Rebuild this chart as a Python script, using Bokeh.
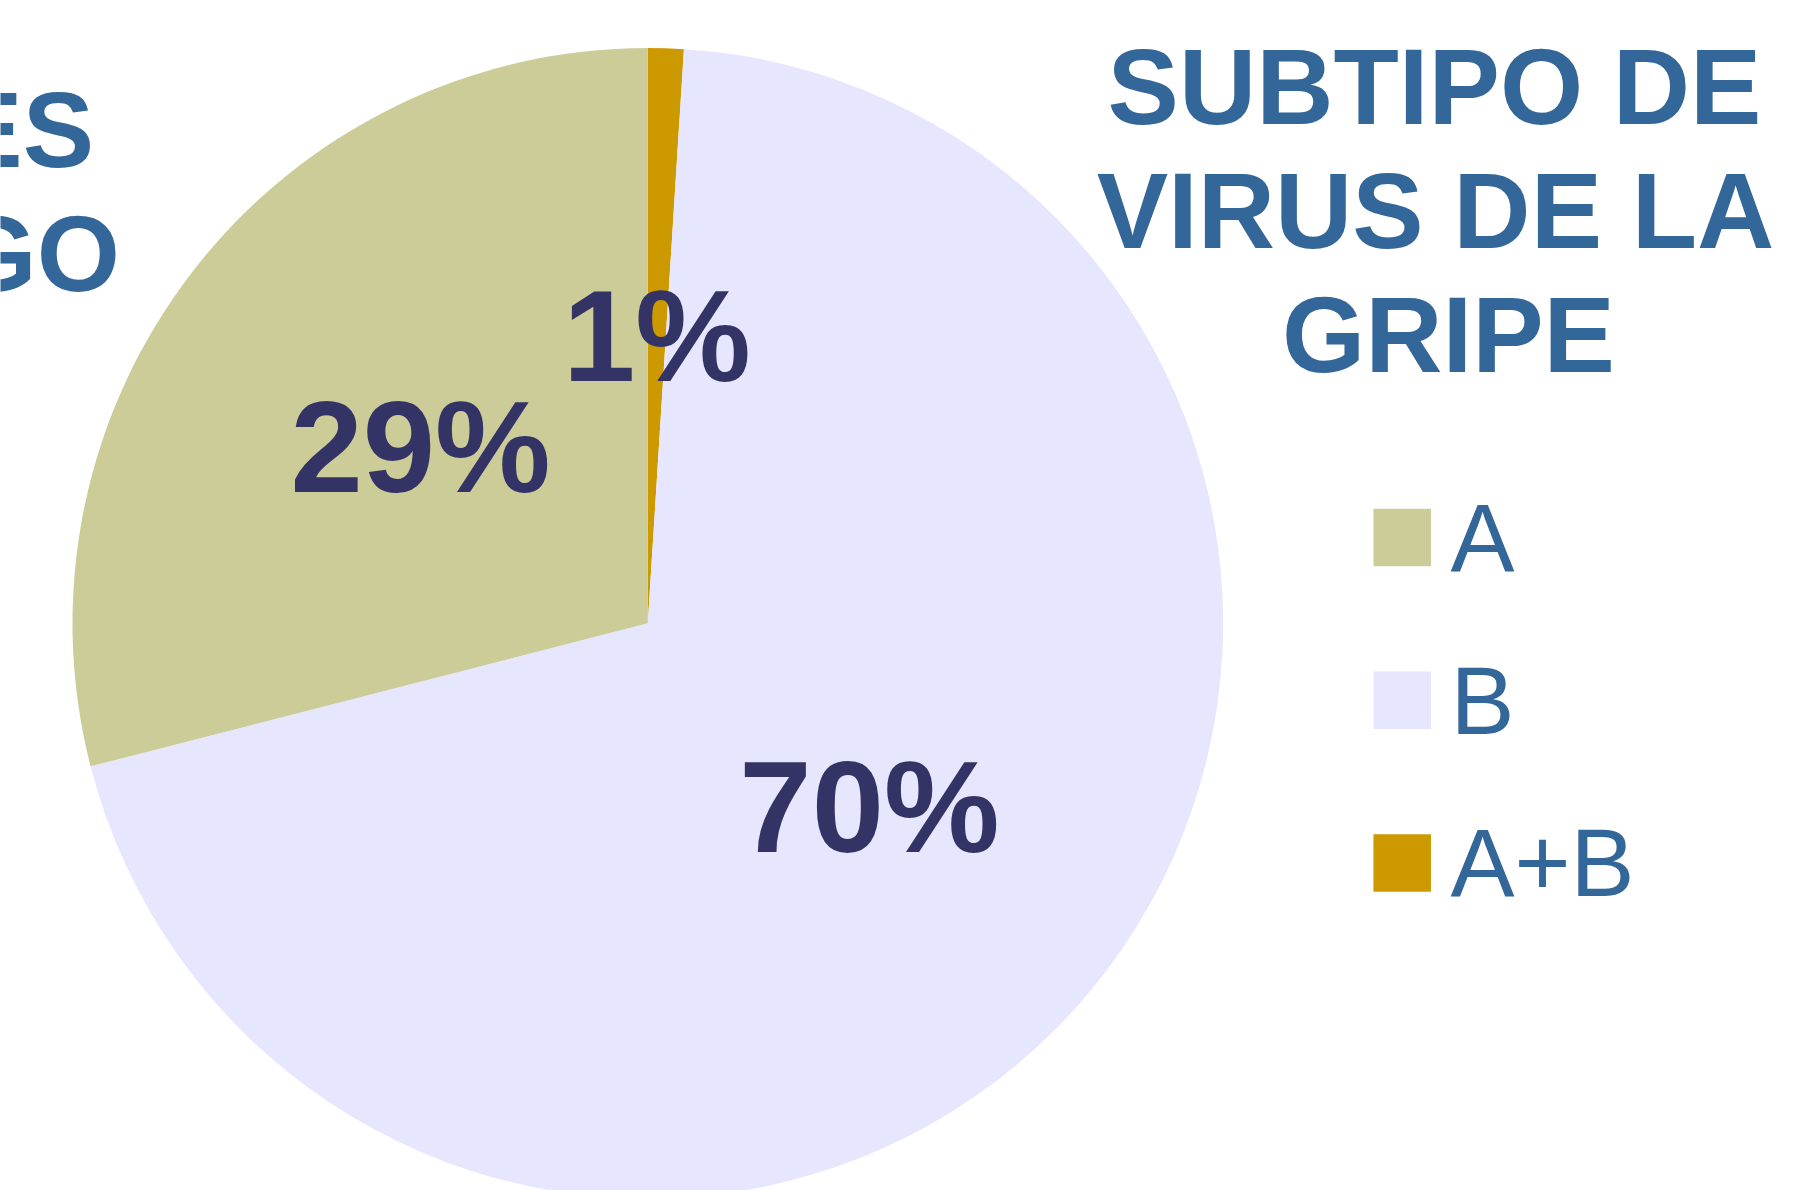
import math
from bokeh.plotting import figure
from bokeh.models import Range1d, ColumnDataSource
from bokeh.core.properties import value
from bokeh.embed import file_html
from bokeh.resources import INLINE

# ---- data ----
categories = ["A", "B", "A+B"]
percent_values = [29, 70, 1]
slice_colors = ["#CCCC99", "#E6E6FF", "#CC9900"]
pie_order = ["A+B", "B", "A"]          # clockwise from 12 o'clock
title_lines = ["SUBTIPO DE", "VIRUS DE LA", "GRIPE"]
neighbour_title_fragments = ["ES", "GO"]

# ---- layout (screen px of the 1813x1190 reference; y measured downward) ----
W, H = 1813, 1190
TITLE_COLOR = "#336699"
LABEL_COLOR = "#333366"
FONT = value("Liberation Sans")

def yd(screen_y):
    return 1190 - screen_y

cx, cy, R = 647.3, yd(622.8), 575.3

p = figure(width=W, height=H, output_backend="svg", toolbar_location=None,
           x_range=Range1d(0, W), y_range=Range1d(1190 - H, 1190),
           x_axis_location=None, y_axis_location=None, min_border=0,
           background_fill_color="white", border_fill_color="white")
p.grid.visible = False
p.outline_line_color = None

# ---- pie wedges ----
total = sum(percent_values)
starts, ends, cols, lab_x, lab_y, lab_t = [], [], [], [], [], []
acc = 0.0
for name in pie_order:
    i = categories.index(name)
    v = percent_values[i]
    a0 = math.pi / 2 - 2 * math.pi * acc / total
    acc += v
    a1 = math.pi / 2 - 2 * math.pi * acc / total
    starts.append(a0)
    ends.append(a1)
    cols.append(slice_colors[i])
    mid = (a0 + a1) / 2
    lab_x.append(cx + 0.5 * R * math.cos(mid))
    lab_y.append(cy + 0.5 * R * math.sin(mid))
    lab_t.append(f"{v}%")

src = ColumnDataSource(dict(x=[cx] * 3, y=[cy] * 3, s=starts, e=ends, c=cols))
p.wedge(x="x", y="y", radius=R, start_angle="s", end_angle="e", direction="clock",
        fill_color="c", line_color=None, source=src)

# percent labels (y = centre of the digits)
LABEL_SIZE = 130
p.text(x=lab_x, y=lab_y, text=lab_t,
       text_font=FONT, text_font_style="bold", text_font_size=f"{LABEL_SIZE}px",
       text_color=LABEL_COLOR, text_align="center", text_baseline="alphabetic")

# ---- title (y = centre of the capitals) ----
TITLE_SIZE = 107
title_x = [1434, 1435, 1448]
title_y = [yd(86.7), yd(210.9), yd(334.5)]
p.text(x=title_x, y=title_y, text=title_lines, text_font=FONT,
       text_font_style="bold", text_font_size=f"{TITLE_SIZE}px",
       text_color=TITLE_COLOR, text_align="center", text_baseline="alphabetic")

# neighbouring chart's title, cut by the left edge
p.text(x=[93.5, 119.5], y=[yd(129), yd(253.5)], text=neighbour_title_fragments,
       text_font=FONT, text_font_style="bold", text_font_size=f"{TITLE_SIZE}px",
       text_color=TITLE_COLOR, text_align="right", text_baseline="alphabetic")

# ---- legend ----
LEG_SIZE = 96
SQ = 57.5
leg_cy = [yd(537 + 162.7 * k) for k in range(len(categories))]
p.rect(x=[1401.7] * len(categories), y=leg_cy, width=SQ, height=SQ,
       fill_color=slice_colors, line_color=None)
p.text(x=[1450] * len(categories), y=leg_cy,
       text=categories, text_font=FONT, text_font_size=f"{LEG_SIZE}px",
       text_color=TITLE_COLOR, text_align="left", text_baseline="alphabetic")

open("out.html", "w").write(file_html(p, INLINE))
